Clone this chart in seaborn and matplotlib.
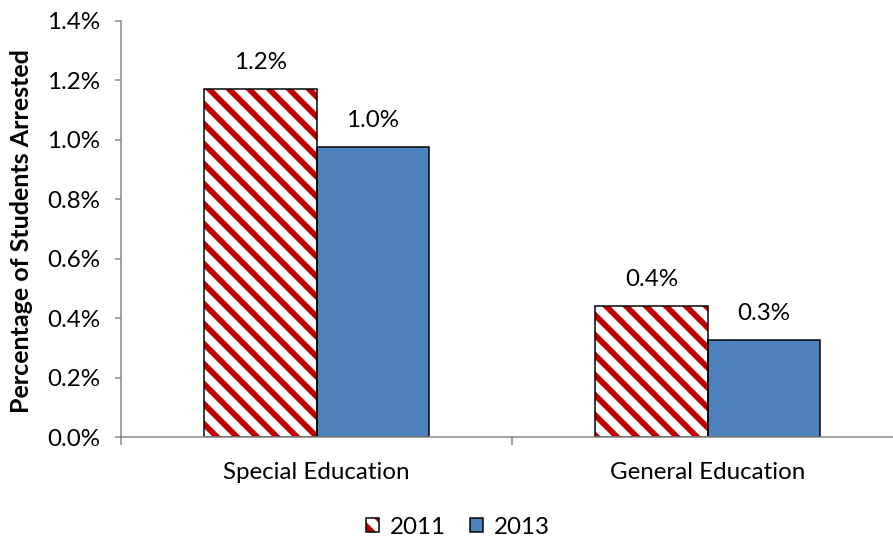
import pandas as pd
import seaborn as sns
import matplotlib.pyplot as plt
from matplotlib.patches import Patch, Rectangle
from matplotlib.legend_handler import HandlerTuple

categories = ['Special Education', 'General Education']
years = ['2011', '2013']
pct_2011 = [1.17, 0.44]
pct_2013 = [0.975, 0.325]
yticks = [0.0, 0.2, 0.4, 0.6, 0.8, 1.0, 1.2, 1.4]

sns.set_style('white')
plt.rcParams['font.family'] = ['Lato', 'DejaVu Sans']
plt.rcParams['hatch.linewidth'] = 3.5
plt.rcParams['text.color'] = 'black'
plt.rcParams['axes.labelcolor'] = 'black'

RED = '#C00000'
BLUE = '#4F81BD'
GRAY = '#868686'
FS = 14.5

df = pd.DataFrame({
    'category': categories * 2,
    'year': [years[0]] * 2 + [years[1]] * 2,
    'pct': pct_2011 + pct_2013,
})

fig = plt.figure(figsize=(893 / 120, 538 / 120), dpi=120)
ax = fig.add_axes([0.1355, 0.1877, 0.8757, 0.7733])

sns.barplot(data=df, x='category', y='pct', hue='year', hue_order=years,
            palette={'2011': 'white', '2013': BLUE}, saturation=1,
            width=0.574, gap=0, errorbar=None, legend=False, ax=ax)

# 2011 bars: red diagonal hatch, black outline drawn on top
for bar in ax.containers[0]:
    bar.set_hatch('\\\\')
    bar.set_edgecolor(RED)
    bar.set_linewidth(0)
    ax.add_patch(Rectangle(bar.get_xy(), bar.get_width(), bar.get_height(),
                           fill=False, ec='black', lw=0.9, zorder=bar.get_zorder() + 0.1))
for bar in ax.containers[1]:
    bar.set_edgecolor('black')
    bar.set_linewidth(0.9)

for cont, vals in zip(ax.containers, [pct_2011, pct_2013]):
    ax.bar_label(cont, labels=[f'{v:.1f}%' for v in vals], padding=10,
                 fontsize=FS, color='black')

ax.set_xlim(-0.5, 1.5)
ax.set_ylim(0, 1.4)
ax.set_yticks(yticks)
ax.set_yticklabels([f'{t:.1f}%' for t in yticks])
ax.set_xlabel('')
ax.set_ylabel('Percentage of Students Arrested', fontweight='bold', fontsize=15)
ax.yaxis.set_label_coords(-0.113, 0.495)

for s in ['top', 'right']:
    ax.spines[s].set_visible(False)
for s in ['left', 'bottom']:
    ax.spines[s].set_color(GRAY)
    ax.spines[s].set_linewidth(0.9)

ax.tick_params(axis='y', left=True, length=3.6, width=0.9, color=GRAY, pad=9,
               labelsize=FS, labelcolor='black')
ax.tick_params(axis='x', which='major', length=0, pad=15, labelsize=FS, labelcolor='black')
ax.set_xticks([-0.5, 0.5, 1.5], minor=True)
ax.tick_params(axis='x', which='minor', bottom=True, length=5, width=0.9, color=GRAY)

handles = [(Patch(facecolor='white', edgecolor=RED, hatch='\\\\', lw=0),
            Patch(facecolor='none', edgecolor='black', lw=0.9)),
           Patch(facecolor=BLUE, edgecolor='black', lw=0.9)]
fig.legend(handles, years, loc='center', bbox_to_anchor=(458 / 893, 1 - 527 / 538),
           ncol=2, frameon=False, handlelength=0.55, handleheight=0.55,
           handletextpad=0.45, columnspacing=1.0, fontsize=FS,
           handler_map={tuple: HandlerTuple(ndivide=1)})

fig.savefig('out.png', dpi=120)
